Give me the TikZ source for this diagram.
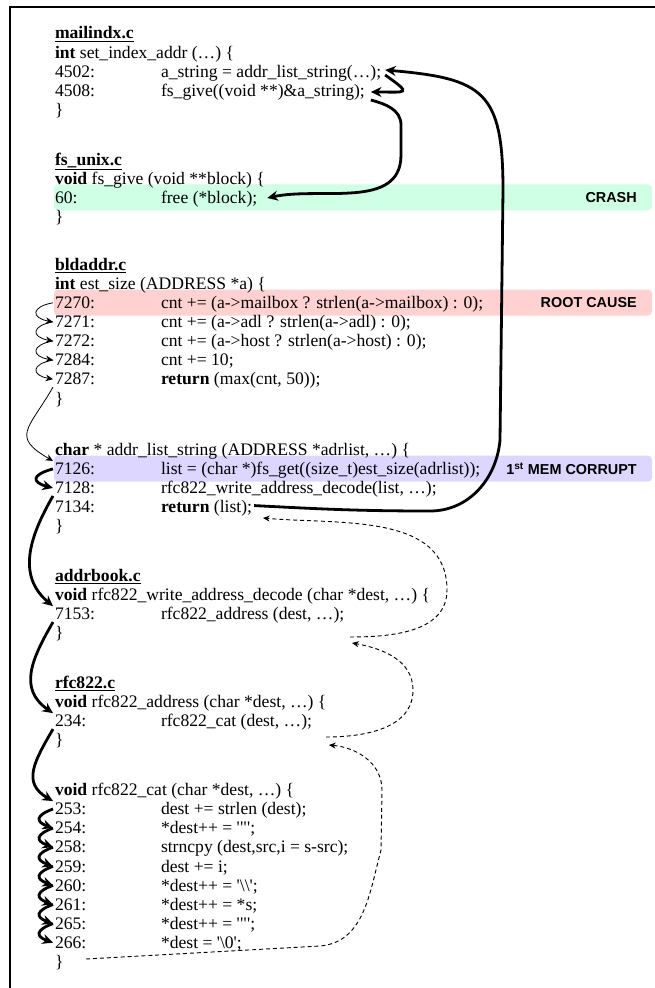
\documentclass[tikz,border=0pt]{standalone}
\usepackage{fontspec}
\setmainfont{Liberation Serif}[Ligatures=TeXOff]
\setsansfont{Liberation Sans}
\usetikzlibrary{arrows.meta}

\definecolor{crashgreen}{RGB}{207,255,228}
\definecolor{causered}{RGB}{255,209,209}
\definecolor{corruptblue}{RGB}{221,214,255}

\tikzset{
    codeline/.style={anchor=base west, inner sep=0pt, outer sep=1.5pt, font=\fontsize{13.2}{15}\selectfont},
    tag/.style={anchor=east, inner sep=0pt, font=\fontsize{10.8}{13}\selectfont\sffamily\bfseries},
    hlbar/.style={rounded corners=3pt},
    stepflow/.style={line width=0.6pt, -{Stealth[length=5.5pt,width=5pt]}},
    callflow/.style={line width=2.1pt, -{Stealth[length=8pt,width=7.5pt]}},
    retflow/.style={line width=0.7pt, dash pattern=on 3pt off 2.2pt, -{Stealth[length=5pt,width=4.5pt]}}
}

\begin{document}
\begin{tikzpicture}[x=0.75pt, y=0.75pt]
    \useasboundingbox (0,0) rectangle (655,-988);
    \draw[line width=1pt] (655,-7) -- (10,-7) -- (10,-988);

    % highlighted lines
    \fill[crashgreen, hlbar] (54,-184.3) rectangle (652,-210.3);
    \fill[causered, hlbar] (54,-289.5) rectangle (652,-315.5);
    \fill[corruptblue, hlbar] (54,-455.6) rectangle (652,-481.6);

    % mailindx.c
    \node[codeline] (mailindx) at (53,-39) {\underline{\textbf{mailindx.c}}};
    \node[codeline] (setidx) at (53,-58.1) {\textbf{int} set\_index\_addr (…) \{};
    \node[codeline] (n4502) at (53,-77.2) {4502:};
    \node[codeline] (c4502) at (159,-77.2) {a\_string = addr\_list\_string(…);};
    \node[codeline] (n4508) at (53,-96.3) {4508:};
    \node[codeline] (c4508) at (159,-96.3) {fs\_give((void **)\&a\_string);};
    \node[codeline] (endsetidx) at (53,-115.4) {\}};

    % fs_unix.c
    \node[codeline] (fsunix) at (53,-165.1) {\underline{\textbf{fs\_unix.c}}};
    \node[codeline] (fsgive) at (53,-184.2) {\textbf{void} fs\_give (void **block) \{};
    \node[codeline] (n60) at (53,-203.3) {60:};
    \node[codeline] (c60) at (159,-203.3) {free (*block);};
    \node[codeline] (endfsgive) at (53,-222.4) {\}};

    % bldaddr.c
    \node[codeline] (bldaddr) at (53,-270.3) {\underline{\textbf{bldaddr.c}}};
    \node[codeline] (estsize) at (53,-289.4) {\textbf{int} est\_size (ADDRESS *a) \{};
    \foreach \n/\t [count=\i from 0] in {7270/{cnt += (a->mailbox ? strlen(a->mailbox) : 0);},
            7271/{cnt += (a->adl ? strlen(a->adl) : 0);},
            7272/{cnt += (a->host ? strlen(a->host) : 0);},
            7284/{cnt += 10;},
            7287/{\textbf{return} (max(cnt, 50));}}{
        \node[codeline] (n\n) at (53,{-308.5-19.1*\i}) {\n:};
        \node[codeline] (c\n) at (159,{-308.5-19.1*\i}) {\t};
    }
    \node[codeline] (endestsize) at (53,-404) {\}};

    \node[codeline] (addrlist) at (53,-455.5) {\textbf{char} * addr\_list\_string (ADDRESS *adrlist, …) \{};
    \node[codeline] (n7126) at (53,-474.6) {7126:};
    \node[codeline] (c7126) at (159,-474.6) {list = (char *)fs\_get((size\_t)est\_size(adrlist));};
    \node[codeline] (n7128) at (53,-493.7) {7128:};
    \node[codeline] (c7128) at (159,-493.7) {rfc822\_write\_address\_decode(list, …);};
    \node[codeline] (n7134) at (53,-512.8) {7134:};
    \node[codeline] (c7134) at (159,-512.8) {\textbf{return} (list);};
    \node[codeline] (endaddrlist) at (53,-531.9) {\}};

    % addrbook.c
    \node[codeline] (addrbook) at (53,-581.6) {\underline{\textbf{addrbook.c}}};
    \node[codeline] (wad) at (53,-600.7) {\textbf{void} rfc822\_write\_address\_decode (char *dest, …) \{};
    \node[codeline] (n7153) at (53,-619.8) {7153:};
    \node[codeline] (c7153) at (159,-619.8) {rfc822\_address (dest, …);};
    \node[codeline] (endwad) at (53,-638.9) {\}};

    % rfc822.c
    \node[codeline] (rfc) at (53,-688.6) {\underline{\textbf{rfc822.c}}};
    \node[codeline] (rfcaddr) at (53,-707.7) {\textbf{void} rfc822\_address (char *dest, …) \{};
    \node[codeline] (n234) at (53,-726.8) {234:};
    \node[codeline] (c234) at (159,-726.8) {rfc822\_cat (dest, …);};
    \node[codeline] (endrfcaddr) at (53,-745.9) {\}};

    \node[codeline] (rfccat) at (53,-795.6) {\textbf{void} rfc822\_cat (char *dest, …) \{};
    \foreach \n/\t [count=\i from 0] in {253/{dest += strlen (dest);},
            254/{*dest++ = '"';},
            258/{strncpy (dest,src,i = s-src);},
            259/{dest += i;},
            260/{*dest++ = '\textbackslash\textbackslash';},
            261/{*dest++ = *s;},
            265/{*dest++ = '"';},
            266/{*dest = '\textbackslash 0';}}{
        \node[codeline] (n\n) at (53,{-814.7-19.1*\i}) {\n:};
        \node[codeline] (c\n) at (159,{-814.7-19.1*\i}) {\t};
    }
    \node[codeline] (endrfccat) at (53,-967.5) {\}};

    \node[tag] (crash) at (637,-197.3) {CRASH};
    \node[tag] (rootcause) at (637,-302.5) {ROOT CAUSE};
    \node[tag] (memcorrupt) at (637,-468.6) {1\textsuperscript{st} MEM CORRUPT};

    % free ends of the return paths
    \coordinate (outwad) at (350,-637);
    \coordinate (inlist) at (263,-518);
    \coordinate (outaddr) at (326,-737);
    \coordinate (inwad) at (352,-643);
    \coordinate (outcat) at (86,-959);
    \coordinate (inaddr) at (329,-745);

    % calls
    \draw[callflow] ([shift={(0,3)}]c7134.east) to[out=-3,in=180] (430,-511) to[out=0,in=-95] (500,-440) -- (503,-190) to[out=90,in=-5,looseness=1.5] ([shift={(2,3)}]c4502.east);
    \draw[callflow] ([shift={(2,-2)}]c4502.east) to[out=-35,in=0,looseness=4] ([shift={(4,0)}]c4508.east);
    \draw[callflow] ([shift={(4,-8)}]c4508.east) to[out=-15,in=90] (401,-125) -- (401,-155) to[out=-90,in=12] ([shift={(8,1)}]c60.east);

    \foreach \a/\b in {7270/7271,7271/7272,7272/7284,7284/7287}
        \draw[stepflow] (n\a.west) to[out=190,in=170,looseness=3] (n\b.west);
    \draw[stepflow] (n7287.south west) to[out=240,in=150,looseness=1.7] (n7126.north west);

    \draw[callflow] (n7126.west) to[out=195,in=165,looseness=3] (n7128.west);
    \draw[callflow] (n7128.south west) to[out=240,in=140,looseness=1.1] (n7153.north west);
    \draw[callflow] (n7153.south west) to[out=240,in=145,looseness=1.2] (n234.north west);
    \draw[callflow] (n234.south west) to[out=240,in=150,looseness=1.3] (n253.north west);
    \foreach \a/\b in {253/254,254/258,258/259,259/260,260/261,261/265,265/266}
        \draw[callflow] (n\a.west) to[out=200,in=160,looseness=2.5] (n\b.west);

    % returns
    \draw[retflow] (outwad) to[out=0,in=-90] (447,-590) to[out=90,in=-5] (inlist);
    \draw[retflow] (outaddr) to[out=0,in=-90] (413,-690) to[out=90,in=-10] (inwad);
    \draw[retflow] (outcat) -- (320,-946) to[out=5,in=-105] (381,-850) -- (382,-790) to[out=90,in=-5] (inaddr);
\end{tikzpicture}
\end{document}
